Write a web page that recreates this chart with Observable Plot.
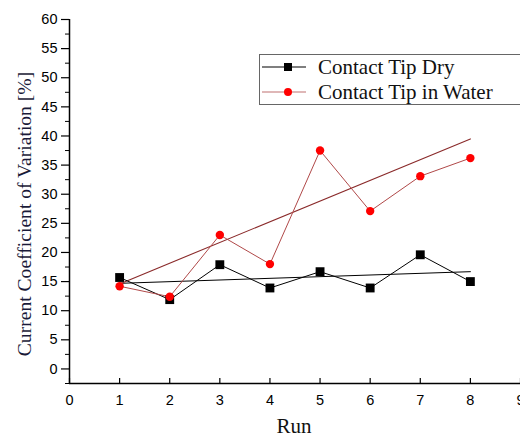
<!DOCTYPE html>
<html>
<head>
<meta charset="utf-8">
<script src="https://cdn.jsdelivr.net/npm/d3@7"></script>
<script src="https://cdn.jsdelivr.net/npm/@observablehq/plot@0.6"></script>
<style>
  html, body { margin: 0; padding: 0; background: #fff; }
  #wrap { position: relative; width: 520px; height: 439px; overflow: hidden; }
  .title { position: absolute; font-family: "Liberation Serif", "Times New Roman", serif; line-height: 1; color: #1a1a38; white-space: nowrap; }
  #ylab { left: 25px; top: 214px; font-size: 19.6px; transform: translate(-50%, -50%) rotate(-90deg); }
  #xlab { left: 294px; top: 426px; font-size: 21px; transform: translate(-50%, -50%); color: #111; }
  #legend { position: absolute; left: 259px; top: 54px; width: 275px; height: 51px; border: 1px solid #666; box-sizing: border-box; background: #fff; }
  .lrow { position: absolute; left: 0; height: 22px; display: flex; align-items: center; font-family: "Liberation Serif", "Times New Roman", serif; font-size: 21px; line-height: 1; color: #111; white-space: nowrap; }
  .lrow svg { margin-left: 2px; margin-right: 12px; }
</style>
</head>
<body>
<div id="wrap">
  <div id="chart"></div>
  <div id="ylab" class="title">Current Coefficient of Variation [%]</div>
  <div id="xlab" class="title">Run</div>
  <div id="legend"></div>
</div>
<script>
const runs = [1, 2, 3, 4, 5, 6, 7, 8];
const dry = [15.7, 11.9, 17.9, 13.9, 16.7, 13.9, 19.6, 15.0];
const water = [14.2, 12.4, 23.0, 18.0, 37.5, 27.1, 33.1, 36.2];
const fitRuns = [1, 8];
const dryFit = [14.7, 16.7];
const waterFit = [14.6, 39.5];
const seriesNames = ["Contact Tip Dry", "Contact Tip in Water"];
const xTicks = [0, 1, 2, 3, 4, 5, 6, 7, 8, 9];
const yTicks = [0, 5, 10, 15, 20, 25, 30, 35, 40, 45, 50, 55, 60];
const yMinor = [-2.5, 2.5, 7.5, 12.5, 17.5, 22.5, 27.5, 32.5, 37.5, 42.5, 47.5, 52.5, 57.5];

const dryData = runs.map((r, i) => ({run: r, v: dry[i]}));
const waterData = runs.map((r, i) => ({run: r, v: water[i]}));
const dryFitData = fitRuns.map((r, i) => ({run: r, v: dryFit[i]}));
const waterFitData = fitRuns.map((r, i) => ({run: r, v: waterFit[i]}));

const colDry = "#000000";
const colWaterLine = "#b04848";
const colWaterFit = "#8a2a2a";
const colWaterDot = "#ff0000";

const chart = Plot.plot({
  width: 520,
  height: 439,
  marginLeft: 69,
  marginRight: 0,
  marginTop: 19,
  marginBottom: 56,
  style: {fontFamily: "'Liberation Sans', Arial, sans-serif", fontSize: "14px", color: "#000", background: "#fff", overflow: "visible"},
  x: {domain: [0, 9]},
  y: {domain: [-2.5, 60]},
  marks: [
    Plot.axisY({ticks: yTicks, tickSize: 8, tickPadding: 4, label: null, strokeWidth: 1.2, fontSize: 14.5}),
    Plot.axisY({ticks: yMinor, tickSize: 4, tickFormat: () => "", label: null}),
    Plot.axisX({ticks: xTicks, tickSize: -5, tickFormat: () => "", label: null, strokeWidth: 1.2}),
    Plot.axisX({ticks: xTicks, tickSize: 0, tickPadding: 11, label: null, fontSize: 14.5}),
    Plot.ruleX([0], {stroke: "#000", strokeWidth: 1.5}),
    Plot.ruleY([-2.5], {stroke: "#000", strokeWidth: 1.5}),
    Plot.line(dryFitData, {x: "run", y: "v", stroke: colDry, strokeWidth: 1}),
    Plot.line(waterFitData, {x: "run", y: "v", stroke: colWaterFit, strokeWidth: 1.1}),
    Plot.line(dryData, {x: "run", y: "v", stroke: colDry, strokeWidth: 1}),
    Plot.line(waterData, {x: "run", y: "v", stroke: colWaterLine, strokeWidth: 1}),
    Plot.dot(dryData, {x: "run", y: "v", symbol: "square", r: 5, fill: colDry}),
    Plot.dot(waterData, {x: "run", y: "v", r: 4.2, fill: colWaterDot})
  ]
});
document.getElementById("chart").appendChild(chart);

// legend
const legend = document.getElementById("legend");
const items = [
  {name: seriesNames[0], line: colDry, marker: "square", fill: colDry},
  {name: seriesNames[1], line: "#c07070", marker: "circle", fill: colWaterDot}
];
items.forEach((it, i) => {
  const row = document.createElement("div");
  row.className = "lrow";
  row.style.top = (i === 0 ? 1 : 26) + "px";
  const mk = it.marker === "square"
    ? `<rect x="22" y="7" width="8" height="8" fill="${it.fill}"/>`
    : `<circle cx="26" cy="11" r="4" fill="${it.fill}"/>`;
  row.innerHTML = `<svg width="44" height="22"><line x1="0" y1="11" x2="44" y2="11" stroke="${it.line}" stroke-width="1.2"/>${mk}</svg><span>${it.name}</span>`;
  legend.appendChild(row);
});
</script>
</body>
</html>
